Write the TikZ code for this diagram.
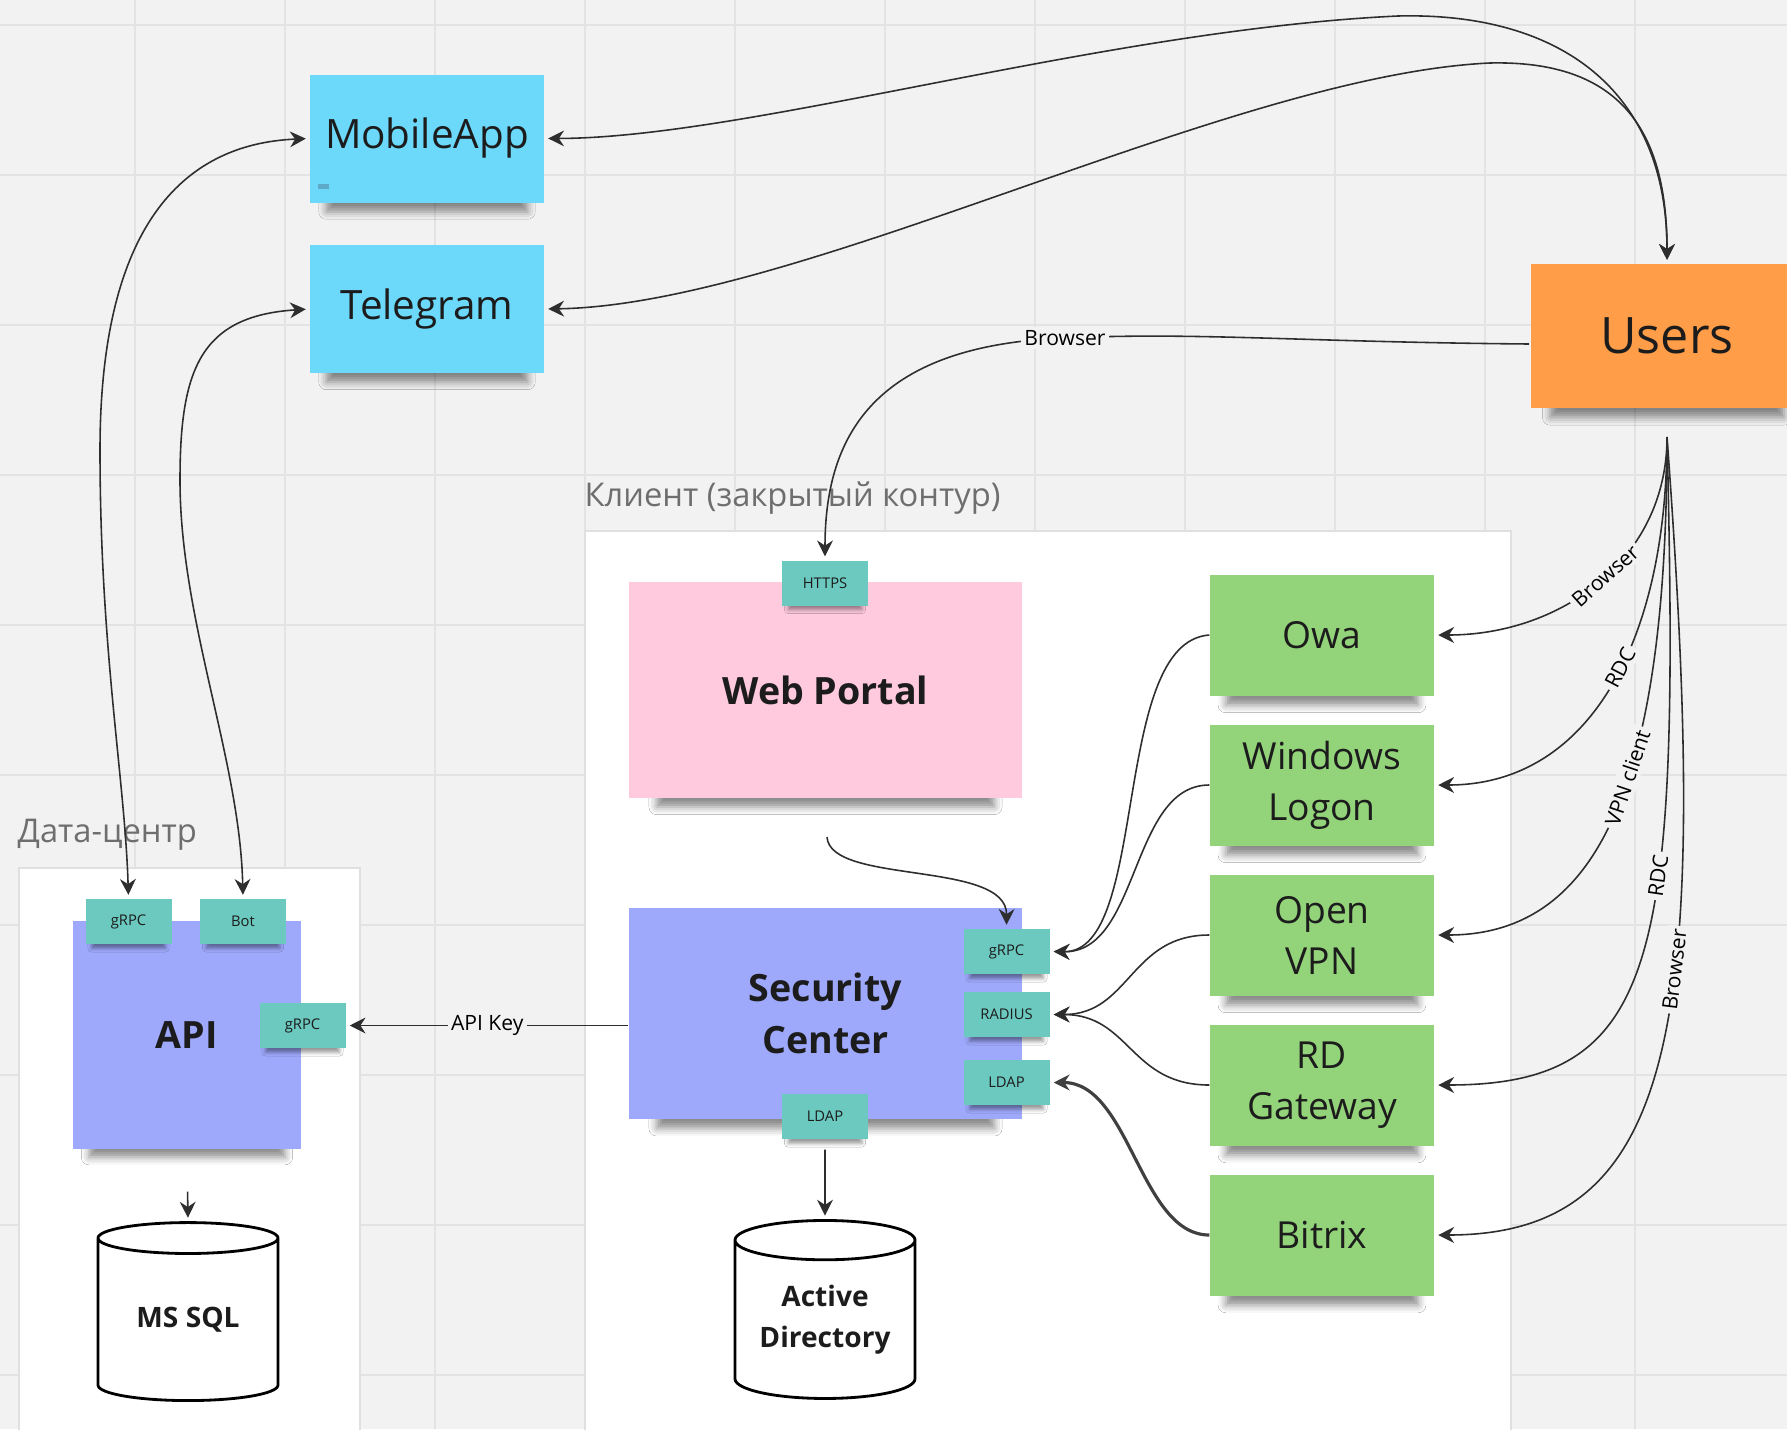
\documentclass[tikz,border=0pt]{standalone}
\usepackage{fontspec}
\setmainfont{Open Sans}
\definecolor{cBg}{HTML}{F2F2F2}
\definecolor{cGrid}{HTML}{E3E3E3}
\definecolor{cFrame}{HTML}{E0E0E0}
\definecolor{cLabel}{HTML}{6E6E6E}
\definecolor{cText}{HTML}{1C1C1C}
\definecolor{cLine}{HTML}{2E2E2E}
\definecolor{cCyan}{HTML}{6CD8FA}
\definecolor{cOrange}{HTML}{FF9D48}
\definecolor{cPink}{HTML}{FFC9DE}
\definecolor{cViolet}{HTML}{9EA9FC}
\definecolor{cTeal}{HTML}{6CC9BF}
\definecolor{cGreen}{HTML}{93D37A}
\definecolor{cMark}{HTML}{5FA9C8}
\usetikzlibrary{arrows.meta}
\usetikzlibrary{shapes.geometric}
\usetikzlibrary{shadows.blur}

\tikzset{
	gridline/.style={cGrid, line width=0.4pt},
	group/.style={fill=white, draw=cFrame, line width=0.4pt},
	grouplbl/.style={anchor=west, inner sep=0pt, text=cLabel, font=\fontsize{9.3}{11}\selectfont},
	shadowed/.style={blur shadow={shadow xshift=0pt, shadow yshift=#1, shadow scale=0.86, shadow opacity=45, shadow blur radius=2.5pt}},
	note/.style={rectangle, inner sep=0pt, align=center, text=cText},
	app/.style={note, shadowed=-6pt, fill=cCyan, minimum width=2.34cm, minimum height=1.28cm, font=\fontsize{11.5}{14}\selectfont},
	users/.style={note, shadowed=-6.5pt, fill=cOrange, minimum width=2.72cm, minimum height=1.44cm, font=\fontsize{14.3}{16}\selectfont},
	svc/.style={note, shadowed=-6pt, fill=cGreen, minimum width=2.24cm, minimum height=1.21cm, font=\fontsize{10.6}{14.5}\selectfont},
	core/.style={note, shadowed=-8pt, font=\bfseries\fontsize{10.7}{14.6}\selectfont},
	port/.style={rectangle, inner sep=0pt, fill=cTeal, text=cText, minimum width=0.86cm, minimum height=0.45cm,
		font=\fontsize{4.2}{5}\selectfont,
		blur shadow={shadow xshift=0pt, shadow yshift=-2.5pt, shadow scale=0.86, shadow opacity=40, shadow blur radius=1.2pt}},
	db/.style={cylinder, shape border rotate=90, aspect=0.3, draw=black, line width=0.8pt, fill=white,
		minimum width=1.8cm, minimum height=1.78cm, inner sep=0pt, align=center, text=cText,
		font=\bfseries\fontsize{8}{11.7}\selectfont},
	link/.style={draw=cLine, line width=0.45pt, shorten >=1pt},
	lbl/.style={fill=cBg, inner sep=1pt, text=black, font=\fontsize{6}{7}\selectfont}
}

\begin{document}
\begin{tikzpicture}[>={Stealth[length=4.5pt,width=4.5pt]}]
		\useasboundingbox (0,0) rectangle (17.87,-14.29);
		\clip (0,0) rectangle (17.87,-14.29);
		% board
		\fill[cBg] (0,0) rectangle (17.87,-14.29);
		\foreach \gx in {1.35,2.85,...,17}
			\draw[gridline] (\gx,0) -- (\gx,-14.29);
		\foreach \gy in {0.25,1.75,...,14}
			\draw[gridline] (0,-\gy) -- (17.87,-\gy);

		% frames
		\draw[group] (0.19,-8.68) rectangle (3.60,-14.6);
		\node[grouplbl] (dclbl) at (0.17,-8.35) {Дата-центр};
		\draw[group] (5.85,-5.31) rectangle (15.11,-14.6);
		\node[grouplbl] (clientlbl) at (5.84,-4.98) {Клиент (закрытый контур)};

		% outside
		\node[app] (mobile) at (4.27,-1.385) {MobileApp};
		\fill[cMark] (3.18,-1.84) rectangle (3.29,-1.89);
		\node[app] (telegram) at (4.27,-3.09) {Telegram};
		\node[users] (users) at (16.67,-3.36) {Users};

		% data centre
		\node[core, fill=cViolet, minimum width=2.28cm, minimum height=2.28cm] (api) at (1.87,-10.35) {API};
		\node[port] (apirpc) at (1.285,-9.215) {gRPC};
		\node[port] (apibot) at (2.43,-9.215) {Bot};
		\node[port] (apikey) at (3.025,-10.255) {gRPC};
		\node[db] (sql) at (1.88,-13.2) {MS SQL};

		% client
		\node[core, fill=cPink, minimum width=3.93cm, minimum height=2.16cm] (portal) at (8.255,-6.9) {Web Portal};
		\node[port] (https) at (8.25,-5.83) {HTTPS};
		\node[core, fill=cViolet, minimum width=3.93cm, minimum height=2.11cm] (sc) at (8.255,-10.135) {Security\\Center};
		\node[port] (scrpc) at (10.065,-9.515) {gRPC};
		\node[port] (scradius) at (10.065,-10.145) {RADIUS};
		\node[port] (scldap) at (10.065,-10.825) {LDAP};
		\node[port] (adldap) at (8.25,-11.165) {LDAP};
		\node[db] (ad) at (8.25,-13.2) {Active\\Directory};

		\node[svc] (owa) at (13.22,-6.35) {Owa};
		\node[svc] (winlogon) at (13.22,-7.85) {Windows\\Logon};
		\node[svc] (vpn) at (13.22,-9.35) {Open\\VPN};
		\node[svc] (rdgw) at (13.22,-10.85) {RD\\Gateway};
		\node[svc] (bitrix) at (13.22,-12.35) {Bitrix};

		\coordinate (usersout) at (16.67,-4.37);
		\coordinate (usersleft) at (15.29,-3.44);
		\coordinate (portalout) at (8.27,-8.37);

		% users <-> apps
		\draw[link, <->, shorten <=1pt] (mobile.east) .. controls (7.5,-1.38) and (11,-0.3) .. (13.98,-0.16)
			.. controls (15.6,-0.12) and (16.67,-0.9) .. (users.north);
		\draw[link, <->, shorten <=1pt] (telegram.east) .. controls (8,-3.05) and (12.3,-0.75) .. (14.9,-0.63)
			.. controls (16.2,-0.6) and (16.67,-1.3) .. (users.north);
		\draw[link, ->] (usersleft) .. controls (13,-3.42) and (12,-3.32) .. (10.65,-3.38) node[lbl] {Browser}
			.. controls (8.8,-3.45) and (8.25,-4.3) .. (https.north);

		% apps <-> api
		\draw[link, <->, shorten <=1pt] (mobile.west) .. controls (1.8,-1.44) and (1.0,-2.3) .. (1.0,-4.5)
			.. controls (1.0,-6.5) and (1.25,-7.8) .. (apirpc.north);
		\draw[link, <->, shorten <=1pt] (telegram.west) .. controls (2.0,-3.16) and (1.8,-3.7) .. (1.8,-4.8)
			.. controls (1.8,-6.2) and (2.4,-7.6) .. (apibot.north);

		\draw[link, ->] (sc.west |- apikey.east) -- node[lbl] {API Key} (apikey.east);
		\draw[link, ->, shorten <=0.42cm] (api.south) -- (sql.north);
		\draw[link, ->, shorten <=0.1cm] (adldap.south) -- (ad.north);
		\draw[link, ->] (portalout) .. controls (8.3,-8.85) and (10.07,-8.6) .. (scrpc.north);

		% users -> services
		\draw[link, ->] (usersout) .. controls (16.67,-5.6) and (15.6,-6.35) .. node[lbl, sloped, pos=0.47] {Browser} (owa.east);
		\draw[link, ->] (usersout) .. controls (16.67,-6.4) and (15.9,-7.85) .. node[lbl, sloped, pos=0.45] {RDC} (winlogon.east);
		\draw[link, ->] (usersout) .. controls (16.67,-7.8) and (16.0,-9.35) .. node[lbl, sloped, pos=0.43] {VPN client} (vpn.east);
		\draw[link, ->] (usersout) .. controls (16.8,-9.6) and (16.6,-10.85) .. node[lbl, sloped, pos=0.38] {RDC} (rdgw.east);
		\draw[link, ->] (usersout) .. controls (17.1,-10.2) and (16.8,-12.35) .. node[lbl, sloped, pos=0.4] {Browser} (bitrix.east);

		% services -> security center
		\draw[link, ->] (owa.west) .. controls (11.1,-6.42) and (11.5,-9.53) .. (scrpc.east);
		\draw[link, ->] (winlogon.west) .. controls (11.3,-7.85) and (11.4,-9.53) .. (scrpc.east);
		\draw[link, ->] (vpn.west) .. controls (11.3,-9.35) and (11.3,-10.145) .. (scradius.east);
		\draw[link, ->] (rdgw.west) .. controls (11.3,-10.85) and (11.3,-10.145) .. (scradius.east);
		\draw[link, ->, draw=black!75, line width=0.9pt] (bitrix.west) .. controls (11.4,-12.35) and (11.3,-10.825) .. (scldap.east);
		\end{tikzpicture}
\end{document}
